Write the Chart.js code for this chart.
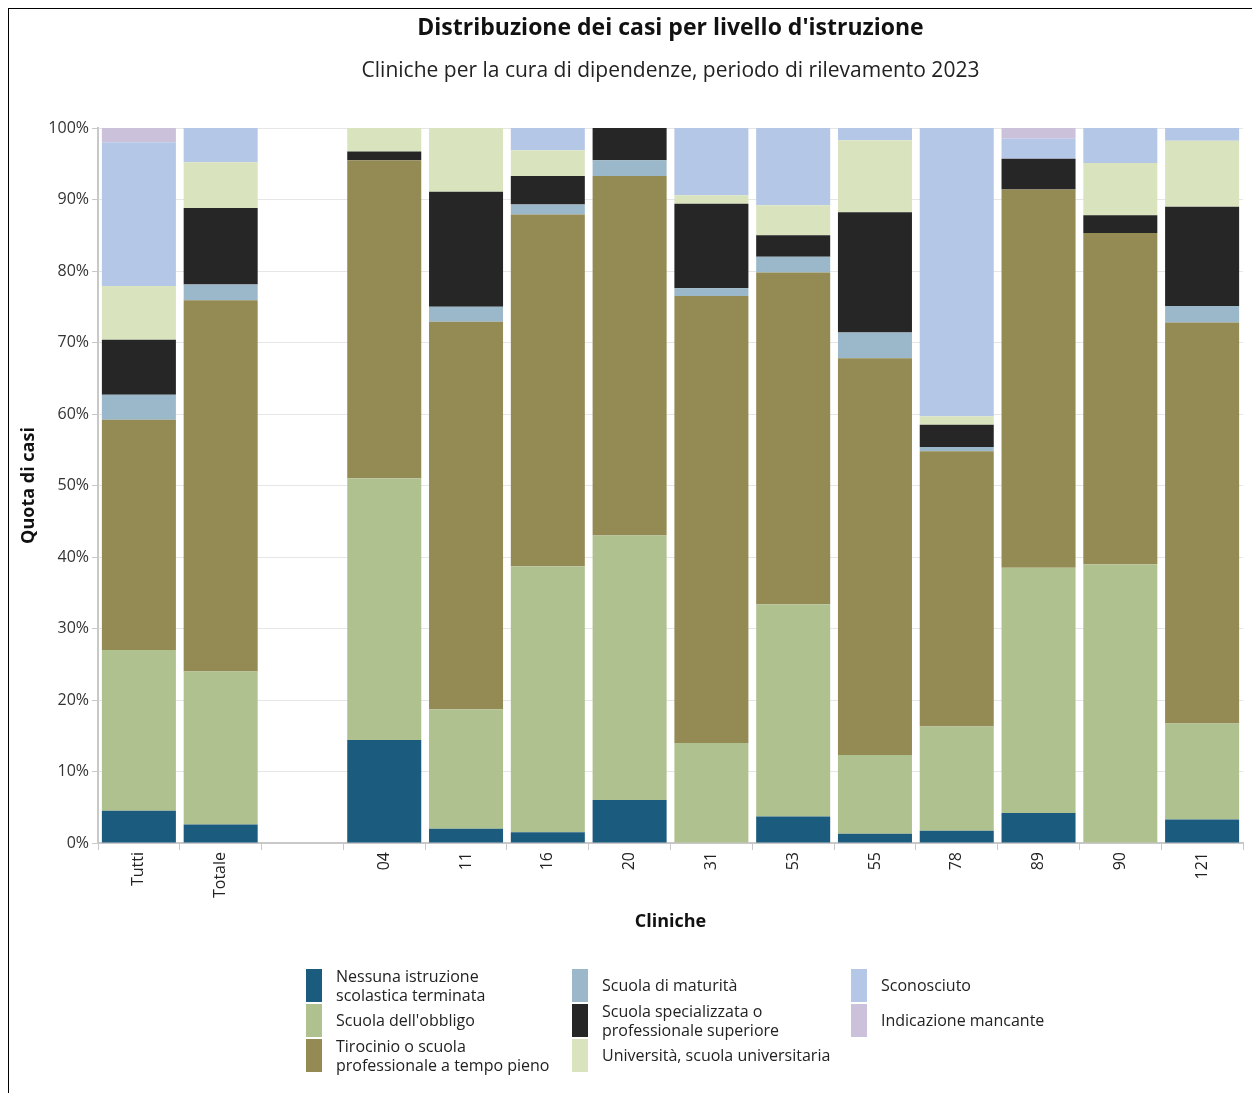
<!DOCTYPE html>
<html lang="it">
<head>
<meta charset="utf-8">
<title>Distribuzione dei casi per livello d'istruzione</title>
<script src="https://cdn.jsdelivr.net/npm/chart.js@4.4.1/dist/chart.umd.min.js"></script>
<style>
  body { margin: 0; background: #fff; font-family: "Open Sans", sans-serif; }
  #wrap { position: relative; width: 1252px; height: 1093px; overflow: hidden; }
  #frame { position: absolute; left: 8px; top: 8px; right: -2px; bottom: -2px; border-top: 1px solid #000; border-left: 1px solid #000; }
  canvas { position: absolute; left: 0; top: 0; }
  #legend { position: absolute; left: 306px; top: 968px; display: grid; grid-template-rows: 35px 35px 35px; grid-auto-flow: column; grid-template-columns: 266px 279px 230px; font-size: 16px; color: #222; }
  .item { display: flex; align-items: center; }
  .sw { width: 16px; height: 33px; margin-right: 14px; flex: none; }
  .lbl { line-height: 19px; }
</style>
</head>
<body>
<div id="wrap">
  <div id="frame"></div>
  <canvas id="chart" width="1252" height="1093"></canvas>
  <div id="legend"></div>
</div>
<script>
// categorie (la terza è vuota, separa i totali dalle cliniche)
const cliniche = ["Tutti", "Totale", "", "04", "11", "16", "20", "31", "53", "55", "78", "89", "90", "121"];

// quote in % per livello d'istruzione
const nessuna       = [4.5, 2.6, null, 14.4, 2.0, 1.5, 6.0, 0, 3.7, 1.3, 1.7, 4.2, 0, 3.3];
const obbligo       = [22.5, 21.4, null, 36.6, 16.7, 37.2, 37.0, 14.0, 29.7, 11.0, 14.6, 34.3, 39.0, 13.4];
const tirocinio     = [32.2, 51.9, null, 44.5, 54.2, 49.2, 50.3, 62.5, 46.4, 55.5, 38.5, 52.9, 46.3, 56.1];
const maturita      = [3.5, 2.2, null, 0, 2.1, 1.4, 2.2, 1.1, 2.2, 3.6, 0.6, 0, 0, 2.3];
const specializzata = [7.7, 10.7, null, 1.2, 16.1, 4.0, 4.5, 11.8, 3.0, 16.8, 3.1, 4.3, 2.5, 13.9];
const universita    = [7.5, 6.4, null, 3.3, 8.9, 3.6, 0, 1.2, 4.2, 10.1, 1.2, 0, 7.3, 9.2];
const sconosciuto   = [20.1, 4.8, null, 0, 0, 3.1, 0, 9.4, 10.8, 1.7, 40.3, 2.8, 4.9, 1.8];
const mancante      = [2.0, 0, null, 0, 0, 0, 0, 0, 0, 0, 0, 1.5, 0, 0];

const titolo = "Distribuzione dei casi per livello d'istruzione";
const sottotitolo = "Cliniche per la cura di dipendenze, periodo di rilevamento 2023";

const serie = [
    { label: "Nessuna istruzione\nscolastica terminata", data: nessuna, color: "#1b5b7e" },
    { label: "Scuola dell'obbligo", data: obbligo, color: "#b0c190" },
    { label: "Tirocinio o scuola\nprofessionale a tempo pieno", data: tirocinio, color: "#948a54" },
    { label: "Scuola di maturità", data: maturita, color: "#9ab8ca" },
    { label: "Scuola specializzata o\nprofessionale superiore", data: specializzata, color: "#262626" },
    { label: "Università, scuola universitaria", data: universita, color: "#d9e4bf" },
    { label: "Sconosciuto", data: sconosciuto, color: "#b4c7e7" },
    { label: "Indicazione mancante", data: mancante, color: "#ccc1da" }
];

const font = "'Open Sans', sans-serif";

// titolo e sottotitolo centrati sull'area del grafico, non sul canvas
const titoliPlugin = {
    id: "titoli",
    afterDraw(c) {
        const ctx = c.ctx;
        const cx = (c.chartArea.left + c.chartArea.right) / 2;
        ctx.save();
        ctx.textAlign = "center";
        ctx.textBaseline = "middle";
        ctx.fillStyle = "#111";
        ctx.font = "bold 23px " + font;
        ctx.fillText(titolo, cx, 28);
        ctx.fillStyle = "#222";
        ctx.font = "21px " + font;
        ctx.fillText(sottotitolo, cx, 71);
        ctx.restore();
    }
};

const chart = new Chart(document.getElementById("chart"), {
    type: "bar",
    data: {
        labels: cliniche,
        datasets: serie.map(s => ({
            label: s.label,
            data: s.data,
            backgroundColor: s.color,
            borderWidth: 0,
            barPercentage: 0.905,
            categoryPercentage: 1
        }))
    },
    plugins: [titoliPlugin],
    options: {
        responsive: false,
        animation: false,
        layout: { padding: { left: 14, right: 9, top: 128, bottom: 156 } },
        plugins: {
            legend: { display: false },
            tooltip: { enabled: false }
        },
        scales: {
            x: {
                stacked: true,
                grid: { display: true, drawOnChartArea: false, offset: true, color: "#c8c8c8", tickLength: 7 },
                border: { color: "#c8c8c8", width: 2 },
                ticks: { color: "#222", font: { family: font, size: 16 }, minRotation: 90, maxRotation: 90, padding: 2 },
                title: { display: true, text: "Cliniche", color: "#111", font: { family: font, size: 18, weight: "bold" } },
                afterFit: axis => { axis.height = 94; }
            },
            y: {
                stacked: true,
                min: 0,
                max: 100,
                grid: { color: "#e6e6e6", tickLength: 6, tickColor: "#c8c8c8" },
                border: { color: "#c8c8c8", width: 2 },
                ticks: { stepSize: 10, color: "#333", font: { family: font, size: 16 }, padding: 3, callback: v => v + "%" },
                title: { display: true, text: "Quota di casi", color: "#111", font: { family: font, size: 18, weight: "bold" } },
                afterFit: axis => { axis.width = 84; }
            }
        }
    }
});

// legenda in tre colonne costruita dai dataset
const legend = document.getElementById("legend");
chart.data.datasets.forEach(ds => {
    const item = document.createElement("div");
    item.className = "item";
    const sw = document.createElement("span");
    sw.className = "sw";
    sw.style.background = ds.backgroundColor;
    const lbl = document.createElement("span");
    lbl.className = "lbl";
    lbl.innerHTML = ds.label.replace("\n", "<br>");
    item.appendChild(sw);
    item.appendChild(lbl);
    legend.appendChild(item);
});
</script>
</body>
</html>
